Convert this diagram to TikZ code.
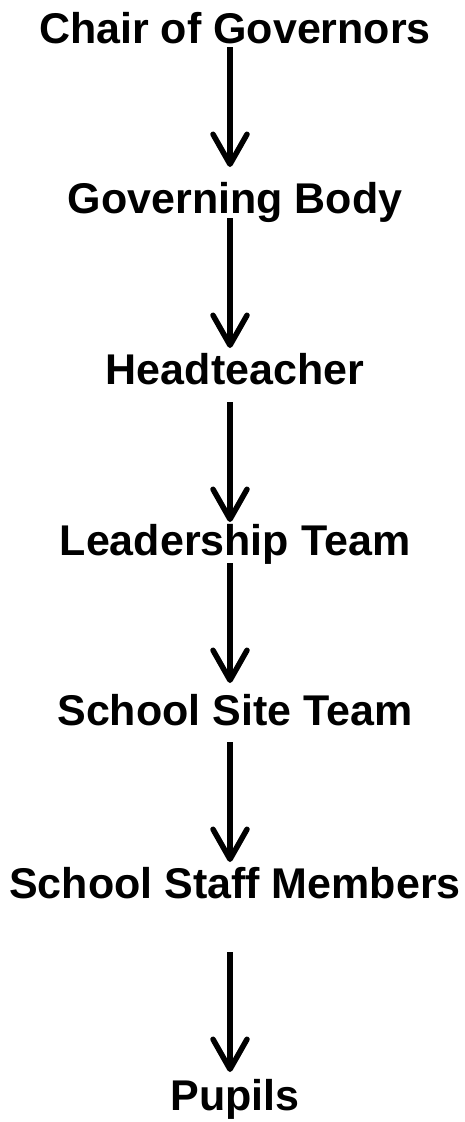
\documentclass[tikz,border=0pt]{standalone}
\usepackage{fontspec}
\setmainfont{Liberation Sans}
\usetikzlibrary{arrows.meta}

\begin{document}
\begin{tikzpicture}[x=1pt, y=-1pt]
    \tikzset{level/.style={font=\fontsize{43}{49}\selectfont\bfseries, inner sep=0pt, anchor=base}}
    \tikzset{flow/.style={line width=5.5pt, -{Straight Barb[length=30pt, width=34pt, round]}}}
    \useasboundingbox (0,0) rectangle (464,1122);

    \node[level] (Chair) at (235,43) {Chair of Governors};
    \node[level] (Governors) at (235,213) {Governing Body};
    \node[level] (Head) at (235,384) {Headteacher};
    \node[level] (Leadership) at (235,555) {Leadership Team};
    \node[level] (Site) at (235,725) {School Site Team};
    \node[level] (Staff) at (235,898) {School Staff Members};
    \node[level] (Pupils) at (235,1110) {Pupils};

    % start gap below / end gap above the baselines
    \foreach \i/\j/\s/\e in {Chair/Governors/4/46, Governors/Head/5/36, Head/Leadership/18/33,
                             Leadership/Site/8/42, Site/Staff/17/36, Staff/Pupils/54/38}{
        \draw[flow] ([xshift=-5pt, yshift=-\s pt]\i.base) -- ([xshift=-5pt, yshift=\e pt]\j.base);
    }
\end{tikzpicture}
\end{document}
